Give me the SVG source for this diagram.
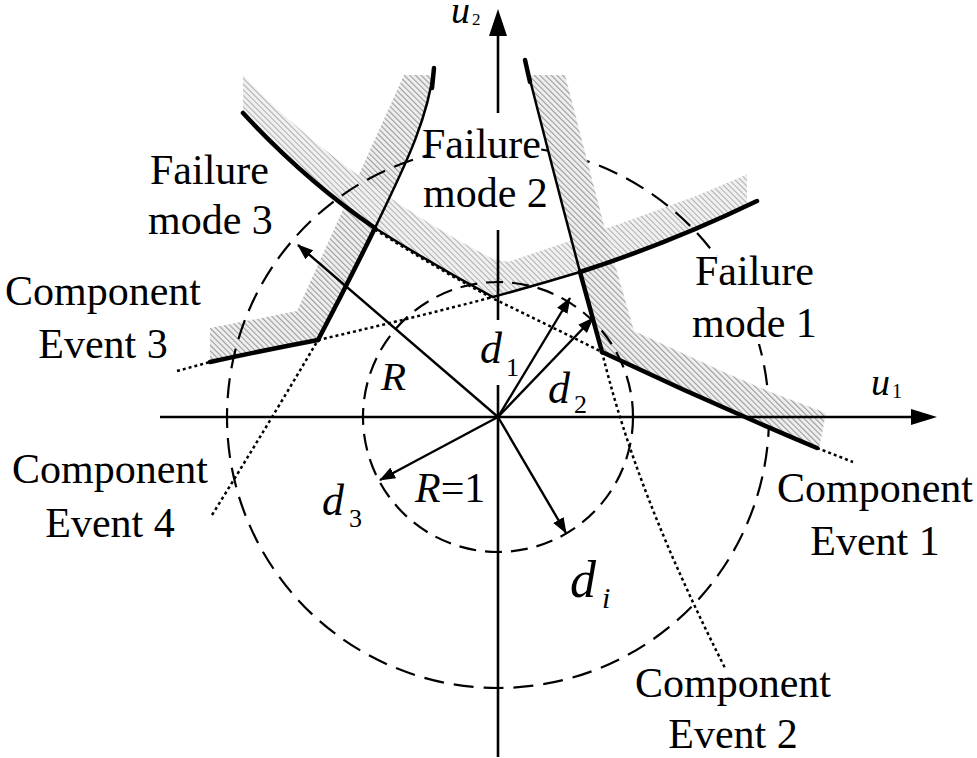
<svg xmlns="http://www.w3.org/2000/svg" width="977" height="758" viewBox="0 0 977 758">
<defs>
<style>
text{font-family:"Liberation Serif","Times New Roman","DejaVu Serif",serif;fill:#000}
.t{font-size:42px}
.m{font-style:italic}
.thin{fill:none;stroke:#000;stroke-width:2.5;stroke-linecap:round}
.thick{fill:none;stroke:#000;stroke-width:4.5;stroke-linecap:round}
.dot{fill:none;stroke:#000;stroke-width:2.5;stroke-dasharray:3 3}
.axis{fill:none;stroke:#000;stroke-width:2.6}
.vec{fill:none;stroke:#000;stroke-width:2.4;marker-end:url(#ah)}
.circ{fill:none;stroke:#000;stroke-width:2.2}
</style>
<pattern id="hatch" width="4" height="4" patternUnits="userSpaceOnUse" patternTransform="rotate(-45)">
<rect width="4" height="4" fill="#efefef"/><rect width="1.1" height="4" fill="#9c9c9c"/>
</pattern>
<pattern id="hatch2" width="4" height="4" patternUnits="userSpaceOnUse" patternTransform="rotate(-45)">
<rect width="4" height="4" fill="#f0f0f0"/><rect width="1" height="4" fill="#b0b0b0"/>
</pattern>
<marker id="ah" viewBox="0 0 16 12" refX="15" refY="6" markerWidth="16" markerHeight="12" markerUnits="userSpaceOnUse" orient="auto">
<path d="M0,0 L16,6 L0,12 Z" fill="#000"/>
</marker>
<clipPath id="cl2"><rect x="0" y="0" width="747" height="758"/></clipPath>
</defs>

<g id="band-mode3">
<path d="M210,328 L297,311 L404,75 L433,75 L425,110 L411,150 L394,189 L375,228 L347,284 L318,340 L264,351 L210,362 Z" fill="url(#hatch)"/>
</g>
<g id="band-mode2" clip-path="url(#cl2)">
<path d="M243,113 C300,175 400,250 493,297 C560,279 680,238 765,200 L765,167 L696,196 L622,223 L552,247 L508,262 L493,259 C400,212 300,137 243,75 Z" fill="url(#hatch2)"/>
</g>

<g id="circle-R">
<circle cx="498" cy="417" r="271" class="circ" stroke-dasharray="20 10"/>
</g>

<g id="band-mode1">
<path d="M529,75 L565,75 L607,237 L634,331 L680,352 L726,373 L773,393 L826,413 L819,449 L773,429 L726,408 L680,387 L636,366 L602,352 L591,312 L580,272 L552,165 L529,75 Z" fill="url(#hatch)"/>
</g>

<g id="circle-R1">
<circle cx="498" cy="417" r="135" class="circ" stroke-dasharray="17 9"/>
</g>

<g id="text-backgrounds" fill="#fff">
<rect x="430" y="124" width="108" height="88"/>
<rect x="692" y="256" width="124" height="88"/>
</g>

<g id="axes">
<line x1="160" y1="417" x2="914" y2="417" class="axis"/>
<polygon points="937,417 911,409 911,425" fill="#000"/>
<line x1="498" y1="34" x2="498" y2="113" class="axis"/>
<line x1="498" y1="230" x2="498" y2="320" class="axis"/>
<line x1="498" y1="385" x2="498" y2="757" class="axis"/>
<polygon points="498,9 489,36 507,36" fill="#000"/>
</g>

<g id="connectors">
<g id="component-event-1">
<path d="M243,113 Q305,180 375,228" class="thick"/>
<path d="M375,228 Q435,266 493,297" class="thin" stroke-width="3"/>
<path d="M375,229.5 Q435,267.5 493,298.5 Q548,325 602,352" class="dot"/>
<path d="M602,352 Q710,403 817,448" class="thick"/>
<path d="M817,448 L853,462" class="dot"/>
</g>
<g id="component-event-2">
<path d="M525,60 Q551,163 580,272" class="thin"/>
<path d="M525,60 L530,82" class="thick"/>
<path d="M580,272 L602,352" class="thick"/>
<path d="M602,352 C620,425 650,520 725,668" class="dot"/>
</g>
<g id="component-event-3">
<path d="M177,371 L210,362" class="dot"/>
<path d="M210,362 Q265,350 318,340" class="thick"/>
<path d="M318,340 Q405,320 493,297" class="dot"/>
<path d="M493,297 Q537,285 580,272" class="thin"/>
<path d="M580,272 Q670,243 757,201" class="thick"/>
</g>
<g id="component-event-4">
<path d="M212,515 Q268,425 318,340" class="dot"/>
<path d="M318,340 Q347,285 375,228" class="thick"/>
<path d="M375,228 C400,175 427,125 434,68" class="thin"/>
<path d="M432,88 L434,68" class="thick"/>
</g>
<g id="vectors">
<line x1="498" y1="417" x2="298" y2="245" class="vec"/>
<line x1="498" y1="417" x2="570" y2="298" class="vec"/>
<line x1="498" y1="417" x2="593" y2="318" class="vec"/>
<line x1="498" y1="417" x2="380" y2="480" class="vec"/>
<line x1="498" y1="417" x2="566" y2="533" class="vec"/>
</g>
</g>

<g id="labels">
<g id="label-u2"><text x="451" y="23" class="m" style="font-size:38px">u</text><text x="472" y="25" style="font-size:17px">2</text></g>
<g id="label-u1"><text x="871" y="395" class="m" style="font-size:38px">u</text><text x="892" y="398" style="font-size:20px">1</text></g>
<g id="label-fm2"><text x="422" y="158" class="t">Failure</text><text x="423" y="207" class="t">mode 2</text></g>
<g id="label-fm3"><text x="150" y="184" class="t">Failure</text><text x="148" y="234" class="t">mode 3</text></g>
<g id="label-fm1"><text x="695" y="285" class="t">Failure</text><text x="692" y="337" class="t">mode 1</text></g>
<g id="label-ce3"><text x="103" y="305" class="t" text-anchor="middle">Component</text><text x="103" y="358" class="t" text-anchor="middle">Event 3</text></g>
<g id="label-ce4"><text x="110" y="483" class="t" text-anchor="middle">Component</text><text x="110" y="537" class="t" text-anchor="middle">Event 4</text></g>
<g id="label-ce1"><text x="875" y="502" class="t" text-anchor="middle">Component</text><text x="875" y="555" class="t" text-anchor="middle">Event 1</text></g>
<g id="label-ce2"><text x="733" y="697" class="t" text-anchor="middle">Component</text><text x="733" y="748" class="t" text-anchor="middle">Event 2</text></g>
<g id="label-R"><text x="381" y="390" class="m" style="font-size:41px">R</text></g>
<g id="label-R1"><text x="415" y="502" class="m" style="font-size:42px">R<tspan style="font-style:normal">=1</tspan></text></g>
<g id="label-d1"><text x="480" y="363" class="m" style="font-size:44px">d</text><text x="506" y="376" style="font-size:26px">1</text></g>
<g id="label-d2"><text x="548" y="403" class="m" style="font-size:44px">d</text><text x="574" y="413" style="font-size:26px">2</text></g>
<g id="label-d3"><text x="322" y="515" class="m" style="font-size:44px">d</text><text x="349" y="527" style="font-size:26px">3</text></g>
<g id="label-di"><text x="570" y="597" class="m" style="font-size:52px">d</text><text x="602" y="608" class="m" style="font-size:30px">i</text></g>
</g>
</svg>
